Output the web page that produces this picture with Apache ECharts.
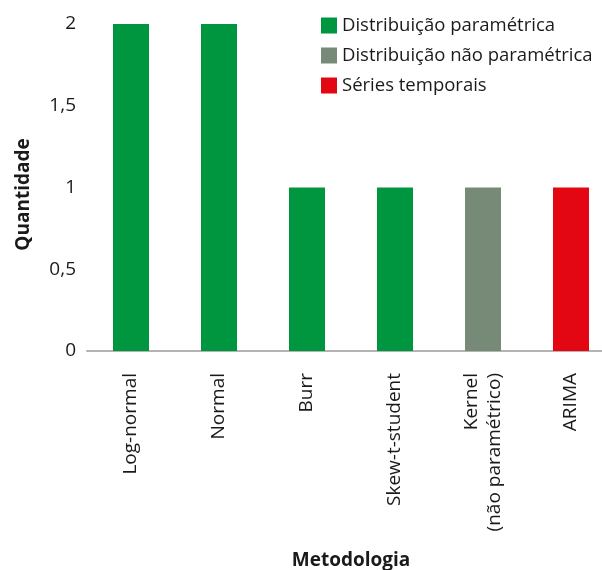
<!DOCTYPE html>
<html><head><meta charset="utf-8">
<script src="https://cdn.jsdelivr.net/npm/echarts@6/dist/echarts.min.js"></script>
<style>html,body{margin:0;padding:0;background:#fff}#c{width:602px;height:570px}</style>
</head><body><div id="c"></div>
<script>
const categories = ['Log-normal','Normal','Burr','Skew-t-student','Kernel\n(não paramétrico)','ARIMA'];
const parametrica = [2,2,1,1,null,null];
const naoParametrica = [null,null,null,null,1,null];
const seriesTemporais = [null,null,null,null,null,1];
const seriesNames = ['Distribuição paramétrica','Distribuição não paramétrica','Séries temporais'];
const colors = ['#009640','#778A78','#E30613'];
const font = 'Open Sans';
const chart = echarts.init(document.getElementById('c'));
chart.setOption({
  animation:false,
  textStyle:{fontFamily:font},
  legend:{
    orient:'vertical', left:316, top:11, itemWidth:16, itemHeight:16, itemGap:11,
    icon:'rect', textStyle:{fontFamily:font,fontSize:18.5,color:'#1a1a1a'},
    data:seriesNames
  },
  grid:{left:87, width:528, top:24, height:327, outerBoundsMode:'none', containLabel:false},
  xAxis:{
    type:'category', data:categories,
    axisLine:{lineStyle:{color:'#b3b3b3',width:2}},
    axisTick:{show:false},
    axisLabel:{rotate:90, margin:22, fontSize:19, color:'#1a1a1a', lineHeight:23, fontFamily:font},
    name:'Metodologia', nameLocation:'middle', nameGap:200,
    nameTextStyle:{fontSize:19,fontWeight:'bold',color:'#1a1a1a',fontFamily:font}
  },
  yAxis:{
    type:'value', min:0, max:2, interval:0.5,
    splitLine:{show:false}, axisLine:{show:false}, axisTick:{show:false},
    axisLabel:{fontSize:19, color:'#1a1a1a', margin:11, fontFamily:font,
      formatter:v=>String(v).replace('.',',')},
    name:'Quantidade', nameLocation:'middle', nameGap:54,
    nameTextStyle:{fontSize:19,fontWeight:'bold',color:'#1a1a1a',fontFamily:font,padding:[0,14,0,0]}
  },
  series:[
    {name:seriesNames[0],type:'bar',stack:'a',barWidth:36,data:parametrica,itemStyle:{color:colors[0]}},
    {name:seriesNames[1],type:'bar',stack:'a',barWidth:36,data:naoParametrica,itemStyle:{color:colors[1]}},
    {name:seriesNames[2],type:'bar',stack:'a',barWidth:36,data:seriesTemporais,itemStyle:{color:colors[2]}}
  ]
});
</script></body></html>
